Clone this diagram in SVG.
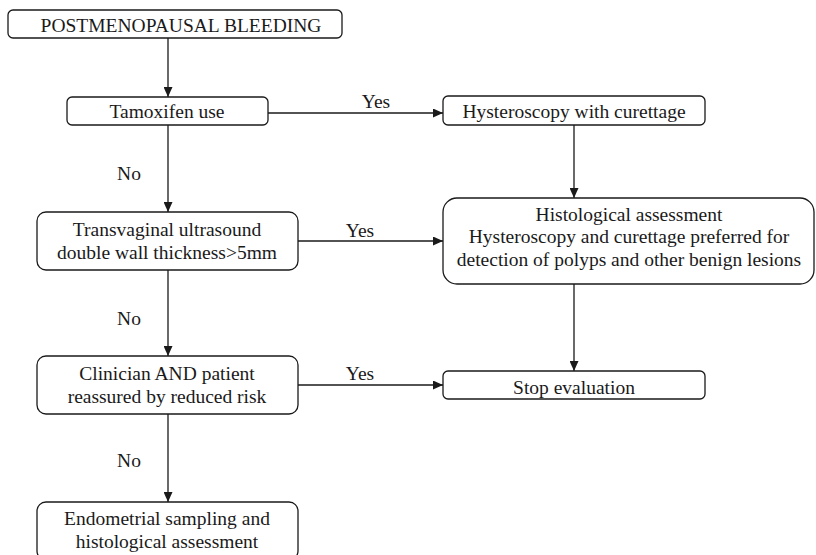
<svg xmlns="http://www.w3.org/2000/svg" width="816" height="555" viewBox="0 0 816 555">
<defs>
<marker id="arr" viewBox="0 0 10 10" refX="10" refY="5" markerWidth="10" markerHeight="9" markerUnits="userSpaceOnUse" orient="auto" preserveAspectRatio="none">
<path d="M0,0 L10,5 L0,10 Z" fill="#1a1a1a"/>
</marker>
</defs>
<style>
.box{fill:#fff;stroke:#1a1a1a;stroke-width:1.3}
.t{font-family:"Liberation Serif","Times New Roman",serif;font-size:19.5px;fill:#1a1a1a;text-anchor:middle}
.c{fill:none;stroke:#1a1a1a;stroke-width:1.3}
</style>
<rect width="816" height="555" fill="#fff"/>
<g id="connectors">
<line class="c" x1="168" y1="38" x2="168" y2="97" marker-end="url(#arr)"/>
<line class="c" x1="268" y1="113" x2="443" y2="113" marker-end="url(#arr)"/>
<line class="c" x1="168" y1="125" x2="168" y2="212" marker-end="url(#arr)"/>
<line class="c" x1="574" y1="125" x2="574" y2="198" marker-end="url(#arr)"/>
<line class="c" x1="298" y1="241" x2="443" y2="241" marker-end="url(#arr)"/>
<line class="c" x1="168" y1="270" x2="168" y2="356" marker-end="url(#arr)"/>
<line class="c" x1="574" y1="284" x2="574" y2="371" marker-end="url(#arr)"/>
<line class="c" x1="298" y1="385" x2="443" y2="385" marker-end="url(#arr)"/>
<line class="c" x1="168" y1="414" x2="168" y2="502" marker-end="url(#arr)"/>
<text class="t" x="376" y="108">Yes</text>
<text class="t" x="360" y="237">Yes</text>
<text class="t" x="360" y="380">Yes</text>
<text class="t" x="129" y="180">No</text>
<text class="t" x="129" y="325">No</text>
<text class="t" x="129" y="467">No</text>
</g>
<g id="n_pmb">
<rect class="box" x="8" y="10" width="334" height="28" rx="5"/>
<text class="t" x="181" y="32">POSTMENOPAUSAL BLEEDING</text>
</g>
<g id="n_tamoxifen">
<rect class="box" x="67" y="97" width="201" height="28" rx="5"/>
<text class="t" x="167" y="118">Tamoxifen use</text>
</g>
<g id="n_hysteroscopy">
<rect class="box" x="443" y="96" width="262" height="29" rx="5"/>
<text class="t" x="574" y="118">Hysteroscopy with curettage</text>
</g>
<g id="n_tvus">
<rect class="box" x="37" y="212" width="261" height="58" rx="9"/>
<text class="t" x="167" y="236">Transvaginal ultrasound</text>
<text class="t" x="167" y="259">double wall thickness&gt;5mm</text>
</g>
<g id="n_histo">
<rect class="box" x="443" y="198" width="371" height="86" rx="14"/>
<text class="t" x="629" y="221">Histological assessment</text>
<text class="t" x="629" y="243">Hysteroscopy and curettage preferred for</text>
<text class="t" x="629" y="266">detection of polyps and other benign lesions</text>
</g>
<g id="n_clinician">
<rect class="box" x="37" y="356" width="261" height="58" rx="9"/>
<text class="t" x="167" y="380">Clinician AND patient</text>
<text class="t" x="167" y="403">reassured by reduced risk</text>
</g>
<g id="n_stop">
<rect class="box" x="443" y="371" width="262" height="28" rx="5"/>
<text class="t" x="574" y="394">Stop evaluation</text>
</g>
<g id="n_endometrial">
<rect class="box" x="37" y="502" width="261" height="58" rx="9"/>
<text class="t" x="167" y="525">Endometrial sampling and</text>
<text class="t" x="167" y="548">histological assessment</text>
</g>
</svg>
